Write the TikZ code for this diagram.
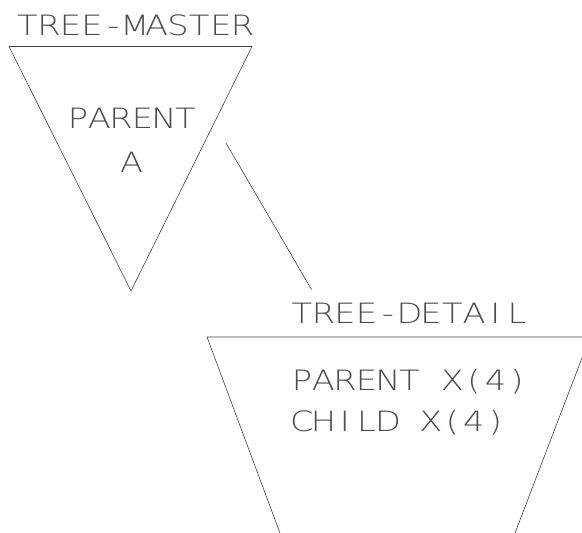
\documentclass[tikz,border=0pt]{standalone}
\usepackage{fontspec}
\newfontfamily\cadfont[FakeStretch=1.2]{DejaVu Sans ExtraLight}
% set every character in a fixed-width cell, like a plotter stroke font
\newcommand\cells[1]{\cellsloop#1\relax}
\def\cellsloop#1{\ifx#1\relax\else\makebox[21.5pt]{#1}\expandafter\cellsloop\fi}
\begin{document}
\begin{tikzpicture}[x=1pt,y=-1pt,
  outline/.style={draw=black!75,line width=0.6pt},
  caption/.style={font=\cadfont\fontsize{28}{28}\selectfont,inner sep=0pt,anchor=base west,text=black!70}]
\useasboundingbox (0,0) rectangle (582,533);
\clip (0,0) rectangle (582,533);
% master segment
\draw[outline] (9,46.5) -- (252,46.5) -- (131,291) -- cycle;
\node[caption] (mastername) at (16.5,35) {\cells{TREE-MASTER}};
\node[caption] (masterkey) at (67,128) {\cells{PARENT}};
\node[caption,anchor=base] (masterval) at (131.5,172) {\cells{A}};
% detail segment
\draw[outline] (207,337) -- (590,337) -- (504.7,560) -- (290,560) -- cycle;
\node[caption] (detailname) at (291,323) {\cells{TREE-DETAIL}};
\node[caption] (detailkey) at (291,390) {\cells{PARENT~X(4)}};
\node[caption] (detailchild) at (291,431.5) {\cells{CHILD~X(4)}};
% link between the segments
\coordinate (linkfrom) at (226,143);
\coordinate (linkto) at (311.5,289.5);
\draw[outline] (linkfrom) -- (linkto);
\end{tikzpicture}
\end{document}
